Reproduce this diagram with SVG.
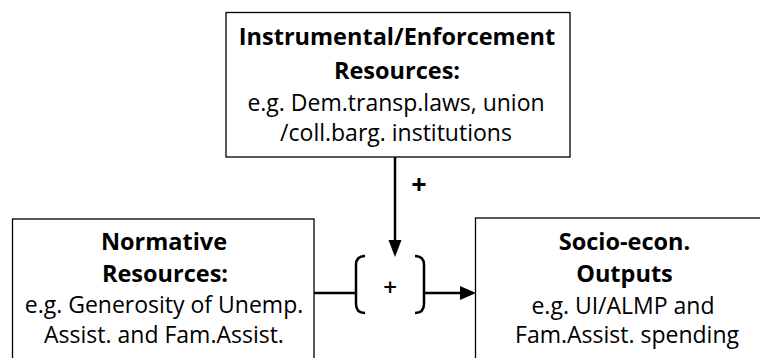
<svg xmlns="http://www.w3.org/2000/svg" width="760" height="358" viewBox="0 0 760 358">
<style>
.box{fill:#fff;stroke:#000;stroke-width:1.3}
.t{font-family:"Open Sans","Liberation Sans",sans-serif;font-size:23px;fill:#000;text-anchor:middle}
.b{font-weight:bold;font-size:23.5px}
.c{fill:none;stroke:#000;stroke-width:2.5}
.ah{fill:#000;stroke:none}
</style>
<rect width="760" height="358" fill="#fff"/>
<g id="instrumental">
<rect class="box" x="226" y="12.5" width="344" height="144.5"/>
<text class="t b" x="397" y="45">Instrumental/Enforcement</text>
<text class="t b" x="397" y="79">Resources:</text>
<text class="t" x="396" y="111">e.g. Dem.transp.laws, union</text>
<text class="t" x="396" y="141">/coll.barg. institutions</text>
</g>
<g id="normative">
<rect class="box" x="12.5" y="219" width="301.5" height="150"/>
<text class="t b" x="164" y="250">Normative</text>
<text class="t b" x="165" y="282">Resources:</text>
<text class="t" x="164" y="313">e.g. Generosity of Unemp.</text>
<text class="t" x="164" y="343">Assist. and Fam.Assist.</text>
</g>
<g id="outputs">
<rect class="box" x="475.5" y="218" width="300" height="150"/>
<text class="t b" x="624.5" y="250">Socio-econ.</text>
<text class="t b" x="624.5" y="282">Outputs</text>
<text class="t" x="623" y="314">e.g. UI/ALMP and</text>
<text class="t" x="627" y="343">Fam.Assist. spending</text>
</g>
<g id="combiner">
<path class="c" d="M365,256 Q356,256 356,265 L356,304 Q356,313 365,313"/>
<path class="c" d="M415,256 Q424,256 424,265 L424,304 Q424,313 415,313"/>
<text class="t" x="390" y="295.5" style="font-size:24px;font-weight:600">+</text>
</g>
<g id="connectors">
<path class="c" d="M395,157 L395,242"/>
<polygon class="ah" points="388.5,240 401.5,240 395,257"/>
<text class="t" x="419" y="194" style="font-size:27px;font-weight:bold">+</text>
<path class="c" d="M314,293 L356,293"/>
<path class="c" d="M424,293 L461,293"/>
<polygon class="ah" points="460,286 460,300 476,293"/>
</g>
</svg>
